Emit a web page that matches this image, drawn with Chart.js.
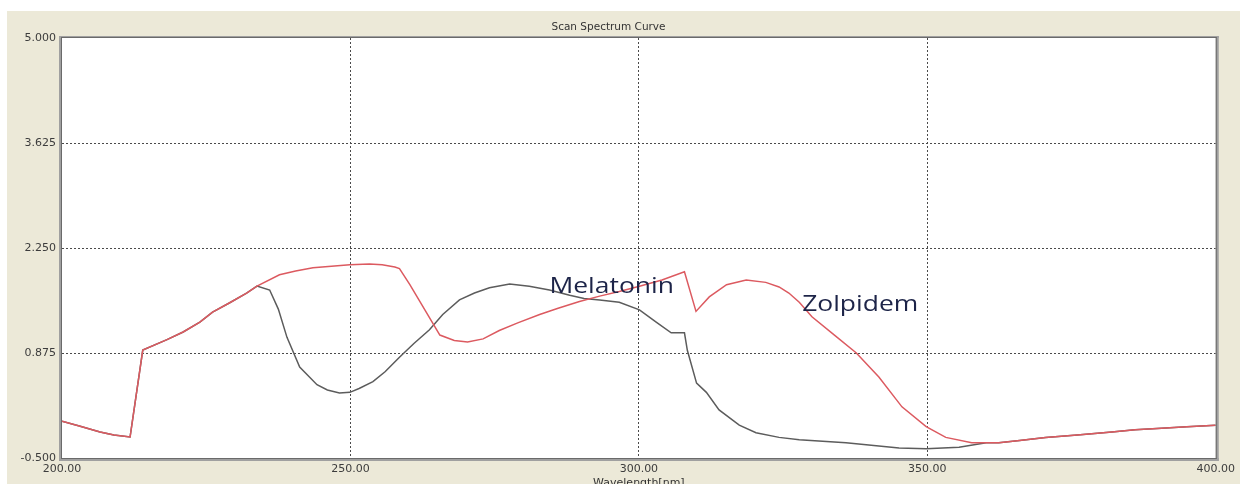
<!DOCTYPE html>
<html>
<head>
<meta charset="utf-8">
<title>Scan Spectrum Curve</title>
<script src="https://cdn.jsdelivr.net/npm/chart.js@4/dist/chart.umd.min.js"></script>
<style>
  html, body { margin: 0; padding: 0; background: #ffffff; }
  #wrap { width: 1240px; height: 484px; }
</style>
</head>
<body>
<div id="wrap"><canvas id="spectrum" width="1240" height="484"></canvas></div>
<script>
// Wavelength (nm) and absorbance samples for each scan
const zolpidemWl = [200, 203, 206.6, 209, 211.8, 214, 218.2, 221, 223.9, 226.1, 229, 232, 233.8,
  237.7, 240.5, 243.5, 249.9, 253.3, 255.5, 257.7, 258.5, 260.3, 262.9, 265.5, 268, 270.3, 273,
  275.8, 279, 282.8, 286, 289.7, 293.2, 296.6, 300.1, 304, 307.9, 309.9, 312.2, 315.2, 318.6,
  322, 324.3, 326, 327.8, 330, 333.9, 337.7, 341.6, 345.6, 349.8, 353.2, 357.7, 362.4, 366,
  370.5, 376, 382, 386, 390.6, 395, 400];
const zolpidemAbs = [-0.02, -0.08, -0.16, -0.20, -0.225, 0.914, 1.05, 1.15, 1.28, 1.41, 1.53, 1.66, 1.752,
  1.90, 1.95, 1.99, 2.03, 2.04, 2.03, 2.00, 1.98, 1.77, 1.44, 1.11, 1.04, 1.02, 1.06,
  1.17, 1.27, 1.38, 1.46, 1.55, 1.62, 1.68, 1.75, 1.83, 1.94, 1.42, 1.61, 1.77, 1.83,
  1.80, 1.74, 1.66, 1.54, 1.35, 1.11, 0.875, 0.56, 0.17, -0.09, -0.23, -0.30, -0.30, -0.27,
  -0.23, -0.20, -0.16, -0.13, -0.11, -0.09, -0.07];

const melatoninWl = [200, 203, 206.6, 209, 211.8, 214, 218.2, 221, 223.9, 226.1, 229, 232, 233.8,
  236, 237.5, 239, 241.2, 244.2, 246, 248.1, 249.9, 251.5, 253.9, 256, 258.5, 261, 263.7, 266,
  268.9, 271.5, 274.1, 277.6, 281, 284.5, 288, 290.5, 293.2, 296.6, 300.1, 303, 305.6, 307.9,
  308.4, 310, 311.7, 313.9, 317.4, 320.3, 324.3, 327.8, 335.9, 345.1, 349.8, 355.5, 360.2, 362.4,
  366, 370.5, 376, 382, 386, 390.6, 395, 400];
const melatoninAbs = [-0.02, -0.08, -0.16, -0.20, -0.225, 0.914, 1.05, 1.15, 1.28, 1.41, 1.53, 1.66, 1.752,
  1.70, 1.45, 1.08, 0.69, 0.46, 0.39, 0.35, 0.36, 0.41, 0.50, 0.63, 0.82, 1.00, 1.18, 1.38,
  1.57, 1.66, 1.73, 1.78, 1.75, 1.70, 1.63, 1.59, 1.57, 1.54, 1.44, 1.28, 1.14, 1.14,
  0.91, 0.48, 0.36, 0.13, -0.07, -0.17, -0.23, -0.26, -0.30, -0.37, -0.38, -0.36, -0.30, -0.30,
  -0.27, -0.23, -0.20, -0.16, -0.13, -0.11, -0.09, -0.07];

// Axis ticks
const xTicks = [200, 250, 300, 350, 400];
const xTickLabels = ['200.00', '250.00', '300.00', '350.00', '400.00'];
const yTicks = [-0.5, 0.875, 2.25, 3.625, 5];
const yTickLabels = ['-0.500', '0.875', '2.250', '3.625', '5.000'];

// Curve name labels placed in data space (wavelength, absorbance at text baseline)
const curveNames = ['Melatonin', 'Zolpidem'];
const curveNameWl = [284.5, 328.3];
const curveNameAbs = [1.66, 1.425];

const toPoints = (xs, ys) => xs.map((x, i) => ({ x: x, y: ys[i] }));

const panelBackground = {
  id: 'panelBackground',
  beforeDraw(chart) {
    const { ctx, chartArea: a } = chart;
    ctx.save();
    ctx.fillStyle = '#ffffff';
    ctx.fillRect(0, 0, chart.width, chart.height);
    ctx.fillStyle = '#ece9d8';
    ctx.fillRect(7, 11, chart.width - 7, chart.height - 11);
    ctx.fillStyle = '#ffffff';
    ctx.fillRect(a.left, a.top, a.right - a.left, a.bottom - a.top);
    ctx.restore();
  }
};

const plotFrame = {
  id: 'plotFrame',
  afterDatasetsDraw(chart) {
    const { ctx, chartArea: a } = chart;
    ctx.save();
    // sunken frame: darker inner edge, grey shading outside
    ctx.fillStyle = '#a0a0a0';
    ctx.fillRect(a.left - 3, a.top - 2, 3, a.bottom - a.top + 5);
    ctx.fillRect(a.left - 3, a.top - 2, a.right - a.left + 6, 2);
    ctx.fillRect(a.right, a.top - 2, 3, a.bottom - a.top + 5);
    ctx.fillRect(a.left - 3, a.bottom, a.right - a.left + 6, 3);
    ctx.fillStyle = '#6a6a6a';
    ctx.fillRect(a.left - 1, a.top - 1, 1, a.bottom - a.top + 2);
    ctx.fillRect(a.left - 1, a.top - 1, a.right - a.left + 2, 1);
    ctx.fillRect(a.right, a.top - 1, 1, a.bottom - a.top + 2);
    ctx.fillRect(a.left - 1, a.bottom, a.right - a.left + 2, 1);
    ctx.restore();
  }
};

const curveLabels = {
  id: 'curveLabels',
  afterDatasetsDraw(chart) {
    const { ctx, scales } = chart;
    ctx.save();
    ctx.font = '21px "Open Sans", sans-serif';
    ctx.fillStyle = '#1d2448';
    ctx.textAlign = 'left';
    ctx.textBaseline = 'alphabetic';
    const stretch = 1.26;
    curveNames.forEach((name, i) => {
      const px = scales.x.getPixelForValue(curveNameWl[i]);
      const py = scales.y.getPixelForValue(curveNameAbs[i]);
      ctx.save();
      ctx.translate(px, py);
      ctx.scale(stretch, 1);
      ctx.fillText(name, 0, 0);
      ctx.restore();
    });
    ctx.restore();
  }
};

const innerGrid = (ctx) => {
  const v = ctx.tick ? ctx.tick.value : null;
  const s = ctx.scale;
  return (v === s.min || v === s.max) ? 'rgba(0,0,0,0)' : '#4a4a4a';
};

new Chart(document.getElementById('spectrum'), {
  type: 'line',
  data: {
    datasets: [
      {
        label: 'Zolpidem',
        data: toPoints(zolpidemWl, zolpidemAbs),
        borderColor: '#dc5a60',
        borderWidth: 1.5,
        pointRadius: 0,
        tension: 0,
        order: 0
      },
      {
        label: 'Melatonin',
        data: toPoints(melatoninWl, melatoninAbs),
        borderColor: '#5c5c5c',
        borderWidth: 1.5,
        pointRadius: 0,
        tension: 0,
        order: 1
      }
    ]
  },
  options: {
    responsive: false,
    animation: false,
    devicePixelRatio: 1,
    layout: { padding: { top: 0, right: 23, bottom: 0, left: 0 } },
    plugins: {
      legend: { display: false },
      tooltip: { enabled: false },
      title: {
        display: true,
        text: 'Scan Spectrum Curve',
        color: '#333333',
        font: { family: '"DejaVu Sans", sans-serif', size: 10.5, weight: 'normal', lineHeight: 1.2 },
        padding: { top: 20.7, bottom: 4.7 }
      }
    },
    scales: {
      x: {
        type: 'linear',
        min: 200,
        max: 400,
        afterBuildTicks(scale) { scale.ticks = xTicks.map(v => ({ value: v })); },
        afterFit(scale) { scale.height = 26; },
        border: { display: false, dash: [2, 2] },
        grid: { color: innerGrid, drawTicks: false, lineWidth: 1 },
        ticks: {
          color: '#3c3c3c',
          padding: 5,
          maxRotation: 0,
          font: { family: '"DejaVu Sans", sans-serif', size: 11 },
          callback: (v) => xTickLabels[xTicks.indexOf(v)]
        },
        title: {
          display: true,
          text: 'Wavelength[nm]',
          color: '#333333',
          font: { family: '"DejaVu Sans", sans-serif', size: 11, lineHeight: 1.2 },
          padding: { top: 0, bottom: -6 }
        }
      },
      y: {
        type: 'linear',
        min: -0.5,
        max: 5,
        afterBuildTicks(scale) { scale.ticks = yTicks.map(v => ({ value: v })); },
        afterFit(scale) { scale.width = 62; },
        border: { display: false, dash: [2, 2] },
        grid: { color: innerGrid, drawTicks: false, lineWidth: 1 },
        ticks: {
          color: '#3c3c3c',
          padding: 6,
          font: { family: '"DejaVu Sans", sans-serif', size: 11 },
          callback: (v) => yTickLabels[yTicks.indexOf(v)]
        }
      }
    }
  },
  plugins: [panelBackground, plotFrame, curveLabels]
});
</script>
</body>
</html>
